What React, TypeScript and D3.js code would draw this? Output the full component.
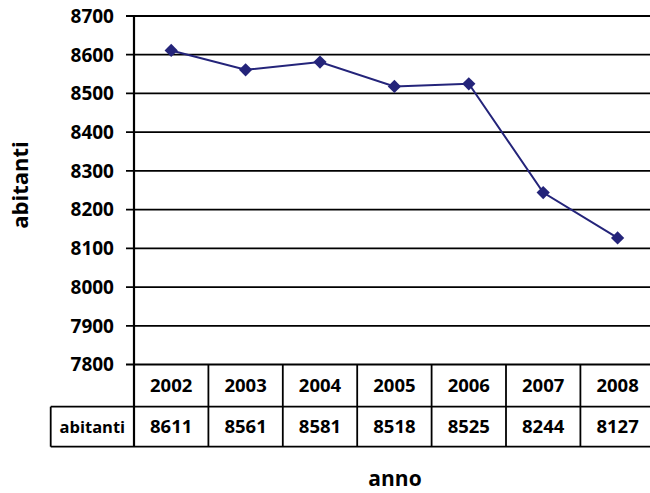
import React from 'react';
import * as d3 from 'd3';

const years = ['2002', '2003', '2004', '2005', '2006', '2007', '2008'];
const abitanti = [8611, 8561, 8581, 8518, 8525, 8244, 8127];
const yTicks = [7800, 7900, 8000, 8100, 8200, 8300, 8400, 8500, 8600, 8700];
const seriesName = 'abitanti';
const xTitle = 'anno';
const yTitle = 'abitanti';

const W = 650;
const H = 493;
const FONT = '"Open Sans", "Liberation Sans", sans-serif';

export default function App() {
  const y = d3.scaleLinear().domain([7800, 8700]).range([364.5, 16]);
  const x = d3.scaleBand<string>().domain(years).range([134, 134 + 7 * 74.4]);
  const cx = (yr: string) => (x(yr) as number) + x.bandwidth() / 2;

  const line = d3
    .line<number>()
    .x((_, i) => cx(years[i]))
    .y((d) => y(d));

  const diamond = d3.symbol().type(d3.symbolSquare).size(88)() as string;

  const rowTop = y(7800);
  const rowMid = 406.7;
  const rowBot = 446.7;
  const labelLeft = 50.7;
  const plotLeft = x.range()[0];

  return (
    <svg width={W} height={H} style={{ position: 'absolute', left: 0, top: 0 }} fontFamily={FONT}>
      <rect width={W} height={H} fill="#fff" />
      {/* gridlines + ticks */}
      {yTicks.map((t) => (
        <g key={t}>
          <line x1={plotLeft - 8} x2={W} y1={y(t)} y2={y(t)} stroke="#000" strokeWidth={1.8} />
          <text
            x={114}
            y={y(t)}
            dy="0.36em"
            textAnchor="end"
            fontSize={19}
            fontWeight="bold"
          >
            {t}
          </text>
        </g>
      ))}
      {/* y axis */}
      <line x1={plotLeft} x2={plotLeft} y1={16} y2={rowBot} stroke="#000" strokeWidth={2.2} />

      {/* data table */}
      <line x1={labelLeft} x2={W} y1={rowMid} y2={rowMid} stroke="#000" strokeWidth={1.8} />
      <line x1={labelLeft} x2={W} y1={rowBot} y2={rowBot} stroke="#000" strokeWidth={1.8} />
      <line x1={labelLeft} x2={labelLeft} y1={rowMid} y2={rowBot} stroke="#000" strokeWidth={1.8} />
      {years.map((yr, i) => (
        <g key={yr}>
          {i > 0 && (
            <line
              x1={x(yr) as number}
              x2={x(yr) as number}
              y1={rowTop}
              y2={rowBot}
              stroke="#000"
              strokeWidth={1.8}
            />
          )}
          <text x={cx(yr)} y={(rowTop + rowMid) / 2} dy="0.36em" textAnchor="middle" fontSize={18.5} fontWeight="bold">
            {yr}
          </text>
          <text x={cx(yr)} y={(rowMid + rowBot) / 2} dy="0.36em" textAnchor="middle" fontSize={18.5} fontWeight="bold">
            {abitanti[i]}
          </text>
        </g>
      ))}
      <text
        x={(labelLeft + plotLeft) / 2}
        y={(rowMid + rowBot) / 2}
        dy="0.36em"
        textAnchor="middle"
        fontSize={16.5}
        fontWeight="bold"
      >
        {seriesName}
      </text>

      {/* series */}
      <path d={line(abitanti) as string} fill="none" stroke="#24247A" strokeWidth={2} />
      {abitanti.map((v, i) => (
        <path
          key={years[i]}
          d={diamond}
          transform={`translate(${cx(years[i])},${y(v)}) rotate(45)`}
          fill="#24247A"
        />
      ))}

      {/* titles */}
      <text x={395} y={478} dy="0.36em" textAnchor="middle" fontSize={21} fontWeight="bold">
        {xTitle}
      </text>
      <text
        transform={`translate(20,185) rotate(-90)`}
        dy="0.36em"
        textAnchor="middle"
        fontSize={22}
        fontWeight="bold"
      >
        {yTitle}
      </text>
    </svg>
  );
}
